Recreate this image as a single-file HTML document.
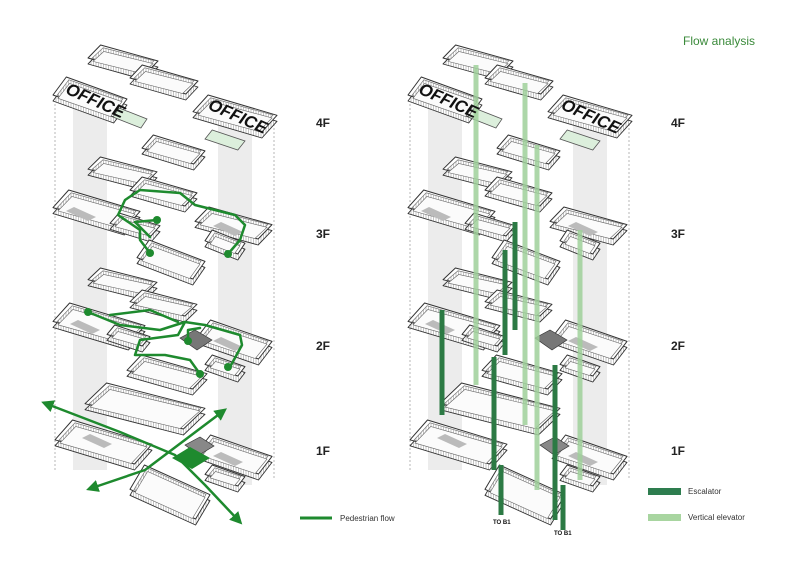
<!DOCTYPE html>
<html><head><meta charset="utf-8"><style>
html,body{margin:0;padding:0;background:#fff;width:800px;height:565px;overflow:hidden}
svg{display:block}
text{font-family:"Liberation Sans",sans-serif}
</style></head><body>
<svg id="s" width="800" height="565" viewBox="0 0 800 565" xmlns="http://www.w3.org/2000/svg">
<defs>
<pattern id="hat" width="2.5" height="6" patternUnits="userSpaceOnUse"><rect width="3" height="6" fill="#fff"/><line x1="1" y1="0" x2="1" y2="6" stroke="#b5b5b5" stroke-width="0.8"/></pattern>
<marker id="ah" viewBox="0 0 10 10" refX="5" refY="5" markerWidth="5" markerHeight="5" orient="auto-start-reverse"><path d="M0,0 L10,5 L0,10 z" fill="#1e8a2e"/></marker>
</defs>
<g id="bg"></g>
<g id="slabsL"></g>
<g id="slabsR"></g>
<g id="over"></g>
<g font-weight="bold" font-size="12" fill="#222">
<text x="316" y="127">4F</text><text x="316" y="238">3F</text><text x="316" y="350">2F</text><text x="316" y="455">1F</text>
<text x="671" y="127">4F</text><text x="671" y="238">3F</text><text x="671" y="350">2F</text><text x="671" y="455">1F</text>
</g>
<text x="683" y="45" font-size="12" fill="#3a8a3a">Flow analysis</text>
<g font-weight="bold" font-style="italic" font-size="17" fill="#111">
<text x="64" y="104" transform="rotate(24 90 100)">OFFICE</text>
<text x="206" y="120" transform="rotate(24 233 117)">OFFICE</text>
<text x="417" y="104" transform="rotate(24 443 100)">OFFICE</text>
<text x="559" y="120" transform="rotate(24 586 117)">OFFICE</text>
</g>
<line x1="300" y1="518" x2="332" y2="518" stroke="#1e8a2e" stroke-width="3"/>
<text x="340" y="521" font-size="8" fill="#333">Pedestrian flow</text>
<rect x="648" y="488" width="33" height="7" fill="#2e7d4f"/>
<text x="688" y="494" font-size="8" fill="#333">Escalator</text>
<rect x="648" y="514" width="33" height="7" fill="#a8d5a0"/>
<text x="688" y="520" font-size="8" fill="#333">Vertical elevator</text>
<g font-size="6" font-weight="bold" fill="#111"><text x="493" y="524">TO B1</text><text x="554" y="535">TO B1</text></g>
</svg>
<script>
var NS="http://www.w3.org/2000/svg";
function el(p,tag,a){var e=document.createElementNS(NS,tag);for(var k in a)e.setAttribute(k,a[k]);p.appendChild(e);return e;}
var slabs=[
[88,45,158,80],[130,65,198,100],[53,77,127,123,1],[193,95,277,138,1],[142,135,205,170],
[88,157,157,190],[130,177,197,212],[53,190,140,235],[110,213,160,242],[195,207,272,245],[205,230,245,260],[137,240,205,285],
[88,268,157,300],[130,290,197,322],[53,303,145,350],[107,325,150,352],[197,320,272,365],[205,355,245,382],[127,355,207,395],
[85,383,205,435],[55,420,152,470],[197,435,272,480],[205,465,245,492],[130,465,210,525]];
function P(s,dy,ins){var x1=s[0]+ins,y1=s[1]+ins*0.7,x2=s[2]-ins,y2=s[3]-ins*0.7,w=x2-x1,h=y2-y1;
return [[x1,y1+h*0.45+dy],[x1+w*0.18,y1+dy],[x2,y2-h*0.45+dy],[x2-w*0.18,y2+dy]].map(function(p){return p[0].toFixed(1)+","+p[1].toFixed(1)}).join(" ");}
var bg=document.getElementById("bg");
[0,355].forEach(function(o){
 el(bg,"rect",{x:73+o,y:95,width:34,height:375,fill:"#ececec"});
 el(bg,"rect",{x:218+o,y:110,width:34,height:375,fill:"#ececec"});
 el(bg,"line",{x1:55+o,y1:100,x2:55+o,y2:470,stroke:"#999","stroke-dasharray":"2,2","stroke-width":0.7});
 el(bg,"line",{x1:274+o,y1:120,x2:274+o,y2:480,stroke:"#999","stroke-dasharray":"2,2","stroke-width":0.7});
});
function drawSlabs(g,o){
 slabs.forEach(function(s){
  var t=[s[0]+o,s[1],s[2]+o,s[3]-6];
  el(g,"polygon",{points:P(t,6,0),fill:"url(#hat)",stroke:"#333","stroke-width":0.9,"stroke-linejoin":"round"});
  el(g,"polygon",{points:P(t,0,0),fill:"#fff",stroke:"#333","stroke-width":1,"stroke-linejoin":"round"});
  el(g,"polygon",{points:P(t,0,4),fill:"url(#hat)",stroke:"#777","stroke-width":0.7});
  el(g,"polygon",{points:P(t,3,5),fill:"#fbfbfb",stroke:"#666","stroke-width":0.6});
 });
 [[66,207,30,14],[70,320,30,14],[82,434,30,14],[213,222,30,14],[213,337,30,14],[213,452,30,14]].forEach(function(r){
  el(g,"polygon",{points:(r[0]+o)+","+(r[1]+4)+" "+(r[0]+o+8)+","+r[1]+" "+(r[0]+o+r[2])+","+(r[1]+r[3]-4)+" "+(r[0]+o+r[2]-8)+","+(r[1]+r[3]),fill:"#bbb"});
 });
 [[113,108,147,128],[205,130,245,150]].forEach(function(r){
  el(g,"polygon",{points:P([r[0]+o,r[1],r[2]+o,r[3]],0,0),fill:"#dcefdc",stroke:"#555","stroke-width":0.8});
 });
 el(g,"polygon",{points:(180+o)+",338 "+(195+o)+",330 "+(212+o)+",340 "+(197+o)+",350",fill:"#777",stroke:"#333","stroke-width":0.7});
 el(g,"polygon",{points:(185+o)+",445 "+(200+o)+",437 "+(214+o)+",446 "+(199+o)+",455",fill:"#888",stroke:"#333","stroke-width":0.7});
}
drawSlabs(document.getElementById("slabsL"),0);
drawSlabs(document.getElementById("slabsR"),355);
var ov=document.getElementById("over");
var G="#1e8a2e";
function path(d,w,extra){var a={d:d,fill:"none",stroke:G,"stroke-width":w||2.5,"stroke-linejoin":"round","stroke-linecap":"round"};for(var k in extra)a[k]=extra[k];el(ov,"path",a);}
path("M150,253 L140,240 L140,230 L118,215 L125,200 L140,190 L180,193 L195,205 L235,215 L245,225 L240,240 L228,254");
path("M157,220 L135,222 L150,237");
path("M88,312 L120,325 L160,330 L185,322 L205,325 L240,335 L242,345 L230,367");
path("M110,315 L150,310 L178,322");
path("M185,322 L178,335 L140,340 L135,355 L165,355 L190,360 L200,374");
path("M188,341 L188,330 L200,328");
[[157,220],[150,253],[228,254],[88,312],[188,341],[200,374],[228,367]].forEach(function(p){el(ov,"circle",{cx:p[0],cy:p[1],r:4,fill:G});});
path("M47,404 L120,432 L175,455 L205,485 L238,520",2.5,{"marker-start":"url(#ah)","marker-end":"url(#ah)"});
path("M92,488 L145,470 L222,412",2.5,{"marker-start":"url(#ah)","marker-end":"url(#ah)"});
el(ov,"polygon",{points:"172,458 190,447 210,458 192,469",fill:G});
var LG="#9fd09a",DG="#2c7a44";
[[476,65,385],[525,83,425],[537,145,490],[580,230,480]].forEach(function(b){el(ov,"rect",{x:b[0]-2.5,y:b[1],width:5,height:b[2]-b[1],fill:LG,opacity:0.85});});
[[515,222,330],[505,250,355],[442,310,415],[494,357,470],[555,365,520],[501,465,515],[563,485,530]].forEach(function(b){el(ov,"rect",{x:b[0]-2.5,y:b[1],width:5,height:b[2]-b[1],fill:DG});});
</script>
</body></html>
